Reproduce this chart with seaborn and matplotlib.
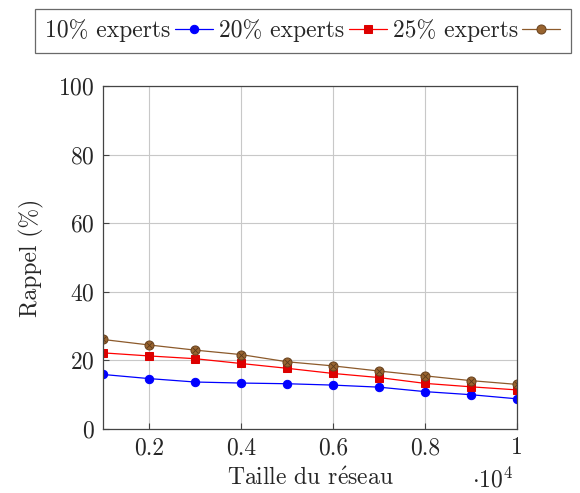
import pandas as pd
import matplotlib.pyplot as plt
import matplotlib.ticker as mticker
import seaborn as sns

# Network sizes and recall values (%)
sizes = [1000, 2000, 3000, 4000, 5000, 6000, 7000, 8000, 9000, 10000]
rappel_10 = [15.9, 14.7, 13.7, 13.4, 13.2, 12.8, 12.2, 10.9, 10.0, 8.8]
rappel_20 = [22.2, 21.3, 20.5, 19.1, 17.7, 16.2, 15.0, 13.3, 12.3, 11.4]
rappel_25 = [26.1, 24.5, 23.0, 21.7, 19.6, 18.4, 16.9, 15.5, 14.1, 13.0]
labels = ['10% experts', '20% experts', '25% experts']

sns.set_style('ticks')
plt.rcParams['font.family'] = ['cmr10', 'DejaVu Serif']
plt.rcParams['mathtext.fontset'] = 'cm'
plt.rcParams['axes.formatter.use_mathtext'] = True
fs = 17

fig = plt.figure(figsize=(5.8, 4.93), dpi=100)
ax = fig.add_axes([0.1776, 0.1298, 0.7138, 0.6958])

df = pd.DataFrame({'size': sizes, labels[0]: rappel_10,
                   labels[1]: rappel_20, labels[2]: rappel_25})

brown = '#8c5a2b'
sns.lineplot(data=df, x='size', y=labels[0], ax=ax, color='#0000ff', lw=0.9,
             marker='o', markersize=6, markeredgecolor='#0000ff', label=labels[0])
sns.lineplot(data=df, x='size', y=labels[1], ax=ax, color='#ff0000', lw=0.9,
             marker='s', markersize=6, markerfacecolor='#dd0000',
             markeredgecolor='#dd0000', label=labels[1])
sns.lineplot(data=df, x='size', y=labels[2], ax=ax, color=brown, lw=0.9,
             marker='o', markersize=6.5, markerfacecolor='#99642f',
             markeredgecolor='#6b4420', label=labels[2])
# otimes-style cross inside the brown markers
ax.plot(df['size'], df[labels[2]], ls='none', marker='x', ms=4,
        mew=0.6, color='#5a3a1c')

ax.set_xlim(1000, 10000)
ax.set_ylim(0, 100)
ax.set_xticks([2000, 4000, 6000, 8000, 10000])
ax.set_yticks([0, 20, 40, 60, 80, 100])
ax.xaxis.set_major_formatter(mticker.FuncFormatter(lambda v, p: f'{v / 1e4:g}'))
ax.grid(True, color='#c8c8c8', lw=0.8)
ax.tick_params(direction='in', length=4, color='#444444', labelsize=fs, pad=6)
for s in ax.spines.values():
    s.set_color('#444444')
    s.set_linewidth(0.9)

ax.set_xlabel(r'Taille du r$\acute{\mathrm{e}}$seau', fontsize=fs, labelpad=6)
ax.set_ylabel('Rappel (%)', fontsize=fs, labelpad=10)
ax.text(0.942, -0.169, r'$\cdot 10^4$', transform=ax.transAxes,
        ha='center', va='baseline', fontsize=fs)

ax.get_legend().remove()
h, l = ax.get_legend_handles_labels()
leg = fig.legend(h[:3], l[:3], loc='upper left', bbox_to_anchor=(0.06, 0.982),
                 ncol=3, markerfirst=False, fontsize=fs, frameon=True,
                 fancybox=False, edgecolor='#444444', handlelength=1.6,
                 handletextpad=0.2, columnspacing=0.25, borderpad=0.45,
                 borderaxespad=0)
leg.get_frame().set_linewidth(0.9)

fig.savefig('out.png', dpi=100)
